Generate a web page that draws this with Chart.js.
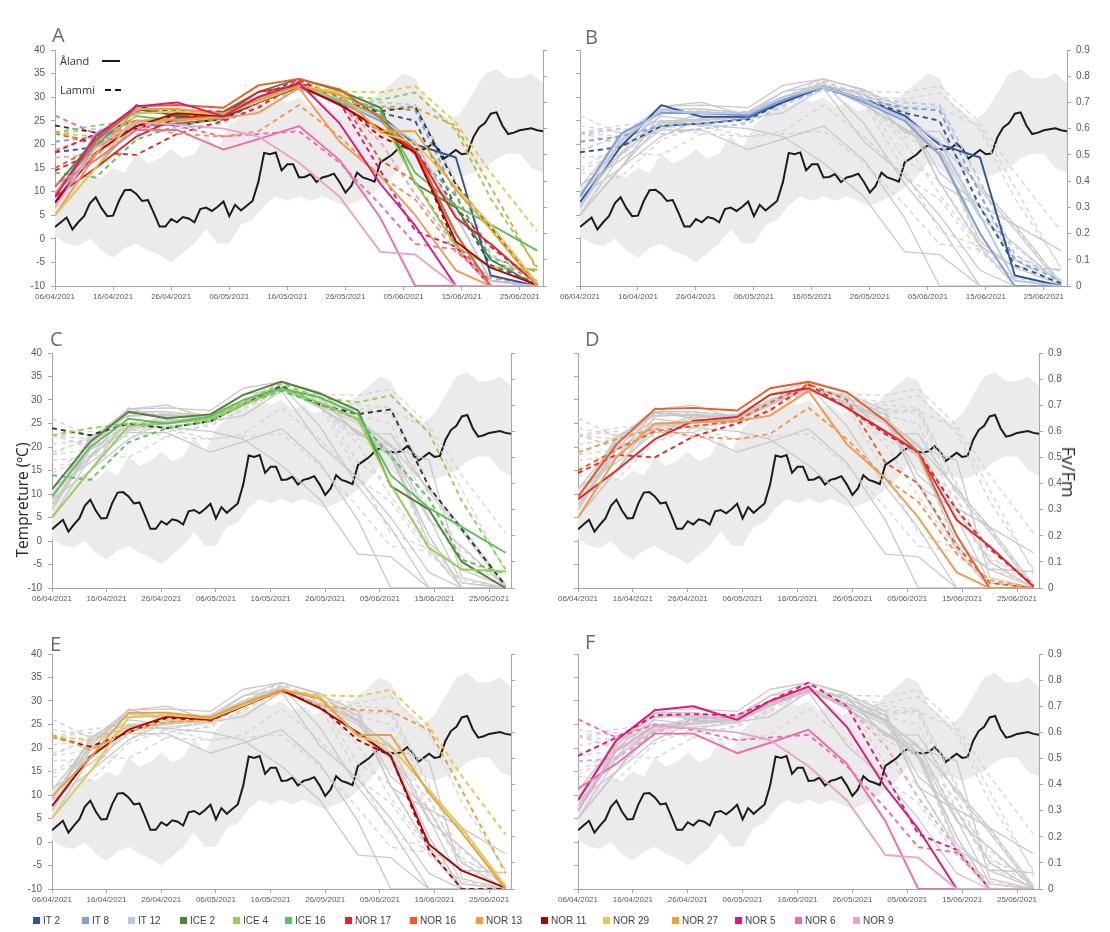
<!DOCTYPE html>
<html><head><meta charset="utf-8">
<script src="https://cdn.jsdelivr.net/npm/chart.js@4.4.1/dist/chart.umd.min.js"></script>
<style>
html,body{margin:0;padding:0;background:#fff;}
body{width:1110px;height:932px;position:relative;overflow:hidden;font-family:"Liberation Sans",Arial,sans-serif;}
canvas{position:absolute;}
.letter{position:absolute;font-size:20px;line-height:20px;color:#6b6b6b;font-family:"Open Sans","Liberation Sans",sans-serif;}
.ylab{position:absolute;font-family:"Open Sans","Liberation Sans",sans-serif;color:#262626;white-space:nowrap;}
.leg{position:absolute;top:915px;font-size:10px;line-height:12px;color:#404040;white-space:nowrap;}
.leg i{display:inline-block;width:7px;height:7px;margin-right:3px;vertical-align:0px;}
.site{position:absolute;font-size:11px;line-height:12px;color:#333;font-family:"Open Sans","Liberation Sans",sans-serif;}
.smp{position:absolute;height:0;}
</style></head><body>
<script>
// ---------- DATA ----------
const tickDays = [0,10,20,30,40,50,60,70,80];
const tickLabels = ['06/04/2021','16/04/2021','26/04/2021','06/05/2021','16/05/2021','26/05/2021','05/06/2021','15/06/2021','25/06/2021'];
const tempTicks = [-10,-5,0,5,10,15,20,25,30,35,40];
const fvTicks = [0,0.1,0.2,0.3,0.4,0.5,0.6,0.7,0.8,0.9];

// daily mean temperature, 06/04/2021 (day 0) to 29/06/2021 (day 84)
const tempValues = [2.5,3.5,4.5,2.0,3.5,4.8,7.5,8.8,6.5,4.8,
  4.9,8.0,10.3,10.4,9.5,8.0,8.2,5.5,2.6,2.6,
  4.2,3.5,4.6,4.3,3.5,6.3,6.6,5.9,6.8,7.9,
  4.8,7.2,6.0,7.0,8.0,12.0,18.2,17.9,18.3,14.5,
  15.8,15.8,13.0,13.1,13.7,12.0,13.0,13.3,13.8,12.0,
  9.8,11.2,14.0,13.0,12.6,12.1,16.2,17.0,17.8,19.0,
  19.8,19.0,19.0,18.8,19.2,20.2,19.0,17.0,17.9,18.8,
  17.9,18.1,21.5,23.6,24.5,26.5,26.8,24.0,22.2,22.5,
  23.0,23.2,23.4,23.0,22.8];

// grey temperature envelope
const bandDays = [0,2,4,6,8,10,12,14,16,18,20,22,24,26,28,30,32,34,36,38,40,42,44,46,48,50,52,54,56,58,60,62,64,66,68,70,72,74,76,78,80,82,84];
const bandUpper = [11,13,12,14,13,15,14,18,16,17,19,17,18,22,19,24,26,29,28,30,29,30,28,29,27,28,30,29,31,33,35,34,29,27,25,27,31,35,36,34,34,35,33];
const bandLower = [0.5,-1,-1.5,0,-2.5,-4,-2,-1,-2.5,-3.5,-5,-3,-1,2,-1,-1,3,4,7,9,8,9,8,9,8,7,8,9,11,13,16,15,13,14,14,13,14,15,17,18,18,15,14];

// Fv/Fm sampling days (days after 06/04/2021)
const sampleDays = [0,7,14,21,29,35,42,49,56,62,69,75,83];

const fvIT2Aland  = [0.32,0.53,0.69,0.645,0.645,0.70,0.76,0.71,0.65,0.54,0.49,0.04,0.0];
const fvIT2Lammi  = [0.51,0.53,0.61,0.62,0.635,0.70,0.76,0.71,0.66,0.63,0.30,0.08,0.01];
const fvIT8Aland  = [0.34,0.58,0.66,0.66,0.65,0.71,0.76,0.70,0.63,0.50,0.20,0.0,0.0];
const fvIT8Lammi  = [0.55,0.57,0.61,0.62,0.64,0.70,0.75,0.71,0.68,0.67,0.35,0.10,0.02];
const fvIT12Aland = [0.30,0.55,0.67,0.66,0.66,0.72,0.76,0.71,0.64,0.55,0.27,0.02,0.0];
const fvIT12Lammi = [0.58,0.60,0.58,0.60,0.62,0.69,0.75,0.72,0.70,0.69,0.40,0.12,0.02];
const fvICE2Aland  = [0.378,0.56,0.675,0.65,0.665,0.74,0.79,0.745,0.68,0.39,0.30,0.10,0.0];
const fvICE2Lammi  = [0.612,0.585,0.63,0.612,0.639,0.702,0.774,0.702,0.666,0.684,0.387,0.225,0.009];
const fvICE4Aland  = [0.27,0.45,0.62,0.63,0.648,0.70,0.765,0.71,0.648,0.396,0.153,0.072,0.063];
const fvICE4Lammi  = [0.585,0.612,0.63,0.63,0.648,0.711,0.783,0.729,0.711,0.738,0.594,0.333,0.072];
const fvICE16Aland = [0.351,0.54,0.648,0.63,0.657,0.72,0.765,0.729,0.666,0.432,0.306,0.234,0.135];
const fvICE16Lammi = [0.432,0.414,0.558,0.612,0.639,0.702,0.756,0.702,0.648,0.504,0.342,0.108,0.054];
const fvNOR17Aland = [0.34,0.45,0.57,0.64,0.655,0.74,0.765,0.69,0.60,0.52,0.26,0.16,0.005];
const fvNOR17Lammi = [0.44,0.51,0.50,0.58,0.63,0.68,0.78,0.69,0.59,0.52,0.30,0.15,0.01];
const fvNOR16Aland = [0.35,0.55,0.685,0.69,0.68,0.765,0.79,0.75,0.64,0.52,0.20,0.0,0.0];
const fvNOR16Lammi = [0.45,0.53,0.60,0.62,0.64,0.71,0.78,0.72,0.48,0.40,0.16,0.02,0.0];
const fvNOR13Aland = [0.27,0.50,0.63,0.635,0.64,0.66,0.755,0.55,0.42,0.27,0.06,0.0,0.0];
const fvNOR13Lammi = [0.52,0.57,0.61,0.58,0.57,0.59,0.69,0.57,0.42,0.33,0.13,0.03,0.0];
const fvNOR11Aland = [0.317,0.508,0.61,0.66,0.648,0.70,0.763,0.693,0.598,0.508,0.17,0.07,0.004];
const fvNOR11Lammi = [0.583,0.545,0.60,0.655,0.645,0.70,0.76,0.70,0.57,0.51,0.15,0.0,0.0];
const fvNOR29Aland = [0.272,0.45,0.657,0.666,0.653,0.702,0.763,0.738,0.585,0.545,0.378,0.234,0.011];
const fvNOR29Lammi = [0.583,0.571,0.621,0.639,0.648,0.702,0.763,0.742,0.738,0.763,0.623,0.432,0.209];
const fvNOR27Aland = [0.355,0.504,0.675,0.675,0.657,0.711,0.763,0.729,0.59,0.59,0.367,0.216,0.0];
const fvNOR27Lammi = [0.59,0.533,0.603,0.639,0.648,0.702,0.756,0.702,0.686,0.68,0.61,0.378,0.061];
const fvNOR5Aland  = [0.34,0.57,0.685,0.70,0.648,0.72,0.775,0.62,0.39,0.23,0.0,0.0,0.0];
const fvNOR5Lammi  = [0.51,0.58,0.665,0.67,0.665,0.72,0.79,0.70,0.44,0.21,0.15,0.0,0.0];
const fvNOR6Aland  = [0.384,0.48,0.595,0.595,0.52,0.56,0.61,0.48,0.26,0.0,0.0,0.0,0.0];
const fvNOR6Lammi  = [0.65,0.58,0.63,0.61,0.57,0.58,0.59,0.47,0.31,0.16,0.14,0.0,0.0];
const fvNOR9Aland  = [0.30,0.53,0.625,0.615,0.60,0.57,0.47,0.34,0.13,0.12,0.0,0.0,0.0];
const fvNOR9Lammi  = [0.49,0.50,0.60,0.65,0.66,0.71,0.76,0.70,0.55,0.35,0.15,0.0,0.0];

const genotypes = ['IT 2','IT 8','IT 12','ICE 2','ICE 4','ICE 16','NOR 17','NOR 16','NOR 13','NOR 11','NOR 29','NOR 27','NOR 5','NOR 6','NOR 9'];
const genoColors = ['#2f5597','#7f9fd8','#b4c8ea','#548235','#92d050','#5cbf60','#e52226','#f05a22','#f4984a','#b00000','#e6c84f','#e9a23b','#e5127d','#f06ca8','#eaa3ca'];
const alandValues = [fvIT2Aland,fvIT8Aland,fvIT12Aland,fvICE2Aland,fvICE4Aland,fvICE16Aland,fvNOR17Aland,fvNOR16Aland,fvNOR13Aland,fvNOR11Aland,fvNOR29Aland,fvNOR27Aland,fvNOR5Aland,fvNOR6Aland,fvNOR9Aland];
const lammiValues = [fvIT2Lammi,fvIT8Lammi,fvIT12Lammi,fvICE2Lammi,fvICE4Lammi,fvICE16Lammi,fvNOR17Lammi,fvNOR16Lammi,fvNOR13Lammi,fvNOR11Lammi,fvNOR29Lammi,fvNOR27Lammi,fvNOR5Lammi,fvNOR6Lammi,fvNOR9Lammi];

// ---------- LAYOUT ----------
const panels = [
  {id:'A', L:55,  R:543,  T:50,  B:286, hl:null, left:true,  right:false, lx:52,  ly:25},
  {id:'B', L:580, R:1067, T:50,  B:286, hl:['IT 2','IT 8','IT 12'], left:false, right:true, lx:585, ly:27},
  {id:'C', L:52,  R:511,  T:353, B:588, hl:['ICE 2','ICE 4','ICE 16'], left:true, right:false, lx:50, ly:329},
  {id:'D', L:578, R:1039, T:353, B:588, hl:['NOR 17','NOR 16','NOR 13'], left:false, right:true, lx:585, ly:329},
  {id:'E', L:52,  R:511,  T:654, B:889, hl:['NOR 11','NOR 29','NOR 27'], left:true, right:false, lx:50, ly:634},
  {id:'F', L:578, R:1039, T:654, B:889, hl:['NOR 5','NOR 6','NOR 9'], left:false, right:true, lx:585, ly:632}
];

Chart.defaults.font.family = '"Liberation Sans", Arial, sans-serif';
const AX = '#a6a6a6';

function buildPanel(p){
  const LW=55, RW=45, XH=30, PT=12;
  const w = (p.R-p.L)+LW+RW, h = (p.B-p.T)+PT+XH;
  const c = document.createElement('canvas');
  c.width=w; c.height=h;
  c.style.left=(p.L-LW)+'px'; c.style.top=(p.T-PT)+'px';
  c.style.width=w+'px'; c.style.height=h+'px';
  document.body.appendChild(c);

  const ds = [];
  ds.push({data:bandDays.map((d,i)=>({x:d,y:bandUpper[i]})), yAxisID:'yT', borderWidth:0, borderColor:'rgba(0,0,0,0)', pointRadius:0, fill:false, order:1000});
  ds.push({data:bandDays.map((d,i)=>({x:d,y:bandLower[i]})), yAxisID:'yT', borderWidth:0, borderColor:'rgba(0,0,0,0)', pointRadius:0, fill:'-1', backgroundColor:'#ebebeb', order:999});
  ds.push({data:tempValues.map((v,i)=>({x:i,y:v})), yAxisID:'yT', borderColor:'#1b1b1b', borderWidth:2, pointRadius:0, fill:false, tension:0, order:900});

  genotypes.forEach((g,i)=>{
    const hl = p.hl===null || p.hl.includes(g);
    [[alandValues[i],false],[lammiValues[i],true]].forEach(([vals,dashed])=>{
      let col = genoColors[i];
      if (dashed && g==='ICE 2') col = '#2a3a1e';
      ds.push({
        data: sampleDays.map((d,j)=>({x:d,y:vals[j]})),
        yAxisID:'yF',
        borderColor: hl ? col : (dashed ? '#d3d3d3' : '#c9c9c9'),
        borderWidth: hl ? 1.9 : 1.3,
        borderDash: dashed ? [5,4] : [],
        borderJoinStyle:'round',
        pointRadius:0, fill:false, tension:0,
        order: hl ? (dashed ? 300 : 200) - i : (dashed ? 600 : 500) + i
      });
    });
  });

  new Chart(c, {
    type:'line',
    data:{datasets:ds},
    options:{
      responsive:false, animation:false, events:[],
      layout:{padding:{top:PT,left:0,right:0,bottom:0}},
      plugins:{legend:{display:false}, tooltip:{enabled:false}},
      scales:{
        x:{type:'linear', min:0, max:84,
          afterFit:s=>{s.height=XH;},
          afterBuildTicks:s=>{s.ticks=tickDays.map(v=>({value:v}));},
          ticks:{autoSkip:false, maxRotation:0, minRotation:0, padding:2, font:{size:8}, color:'#595959',
                 callback:(v)=>{const k=tickDays.indexOf(v); return k>=0?tickLabels[k]:'';}},
          grid:{drawOnChartArea:false, drawTicks:true, tickLength:4, color:AX},
          border:{display:true, color:AX, width:1}},
        yT:{type:'linear', position:'left', min:-10, max:40,
          afterFit:s=>{s.width=LW;},
          afterBuildTicks:s=>{s.ticks=tempTicks.map(v=>({value:v}));},
          ticks:{font:{size:10}, color:p.left?'#595959':'rgba(0,0,0,0)', padding:6},
          grid:{drawOnChartArea:false, drawTicks:true, tickLength:4, color:AX},
          border:{display:true, color:AX, width:1}},
        yF:{type:'linear', position:'right', min:0, max:0.9,
          afterFit:s=>{s.width=RW;},
          afterBuildTicks:s=>{s.ticks=fvTicks.map(v=>({value:v}));},
          ticks:{font:{size:10}, color:p.right?'#595959':'rgba(0,0,0,0)', padding:5,
                 callback:(v)=>String(Math.round(v*10)/10)},
          grid:{drawOnChartArea:false, drawTicks:true, tickLength:4, color:AX},
          border:{display:true, color:AX, width:1}}
      }
    }
  });

  const L = document.createElement('div');
  L.className='letter'; L.textContent=p.id;
  L.style.left=p.lx+'px'; L.style.top=p.ly+'px';
  document.body.appendChild(L);
}
panels.forEach(buildPanel);

// axis titles
function addDiv(cls, text, css){ const d=document.createElement('div'); d.className=cls; d.textContent=text; Object.assign(d.style, css); document.body.appendChild(d); return d; }
addDiv('ylab','Tempreture (ºC)',{left:'22px',top:'500px',fontSize:'15.5px',transform:'translate(-50%,-50%) rotate(-90deg)'});
addDiv('ylab','Fv/Fm',{left:'1069px',top:'472px',fontSize:'18px',transform:'translate(-50%,-50%) rotate(90deg)'});

// site key in panel A
addDiv('site','Åland',{left:'60px',top:'55px'});
addDiv('site','Lammi',{left:'60px',top:'84px'});
addDiv('smp','',{left:'102px',top:'60px',width:'18px',borderTop:'2.5px solid #1b1b1b'});
addDiv('smp','',{left:'105px',top:'89px',width:'6px',borderTop:'2px solid #1b1b1b'});
addDiv('smp','',{left:'115px',top:'89px',width:'6px',borderTop:'2px solid #1b1b1b'});

// legend
const legendX = [33,82,128,180,233,285,345,410,476,541,603,672,735,795,853];
genotypes.forEach((g,i)=>{
  const d=document.createElement('div'); d.className='leg';
  d.style.left=legendX[i]+'px';
  d.innerHTML='<i style="background:'+genoColors[i]+'"></i>'+g;
  document.body.appendChild(d);
});
</script>
</body></html>
